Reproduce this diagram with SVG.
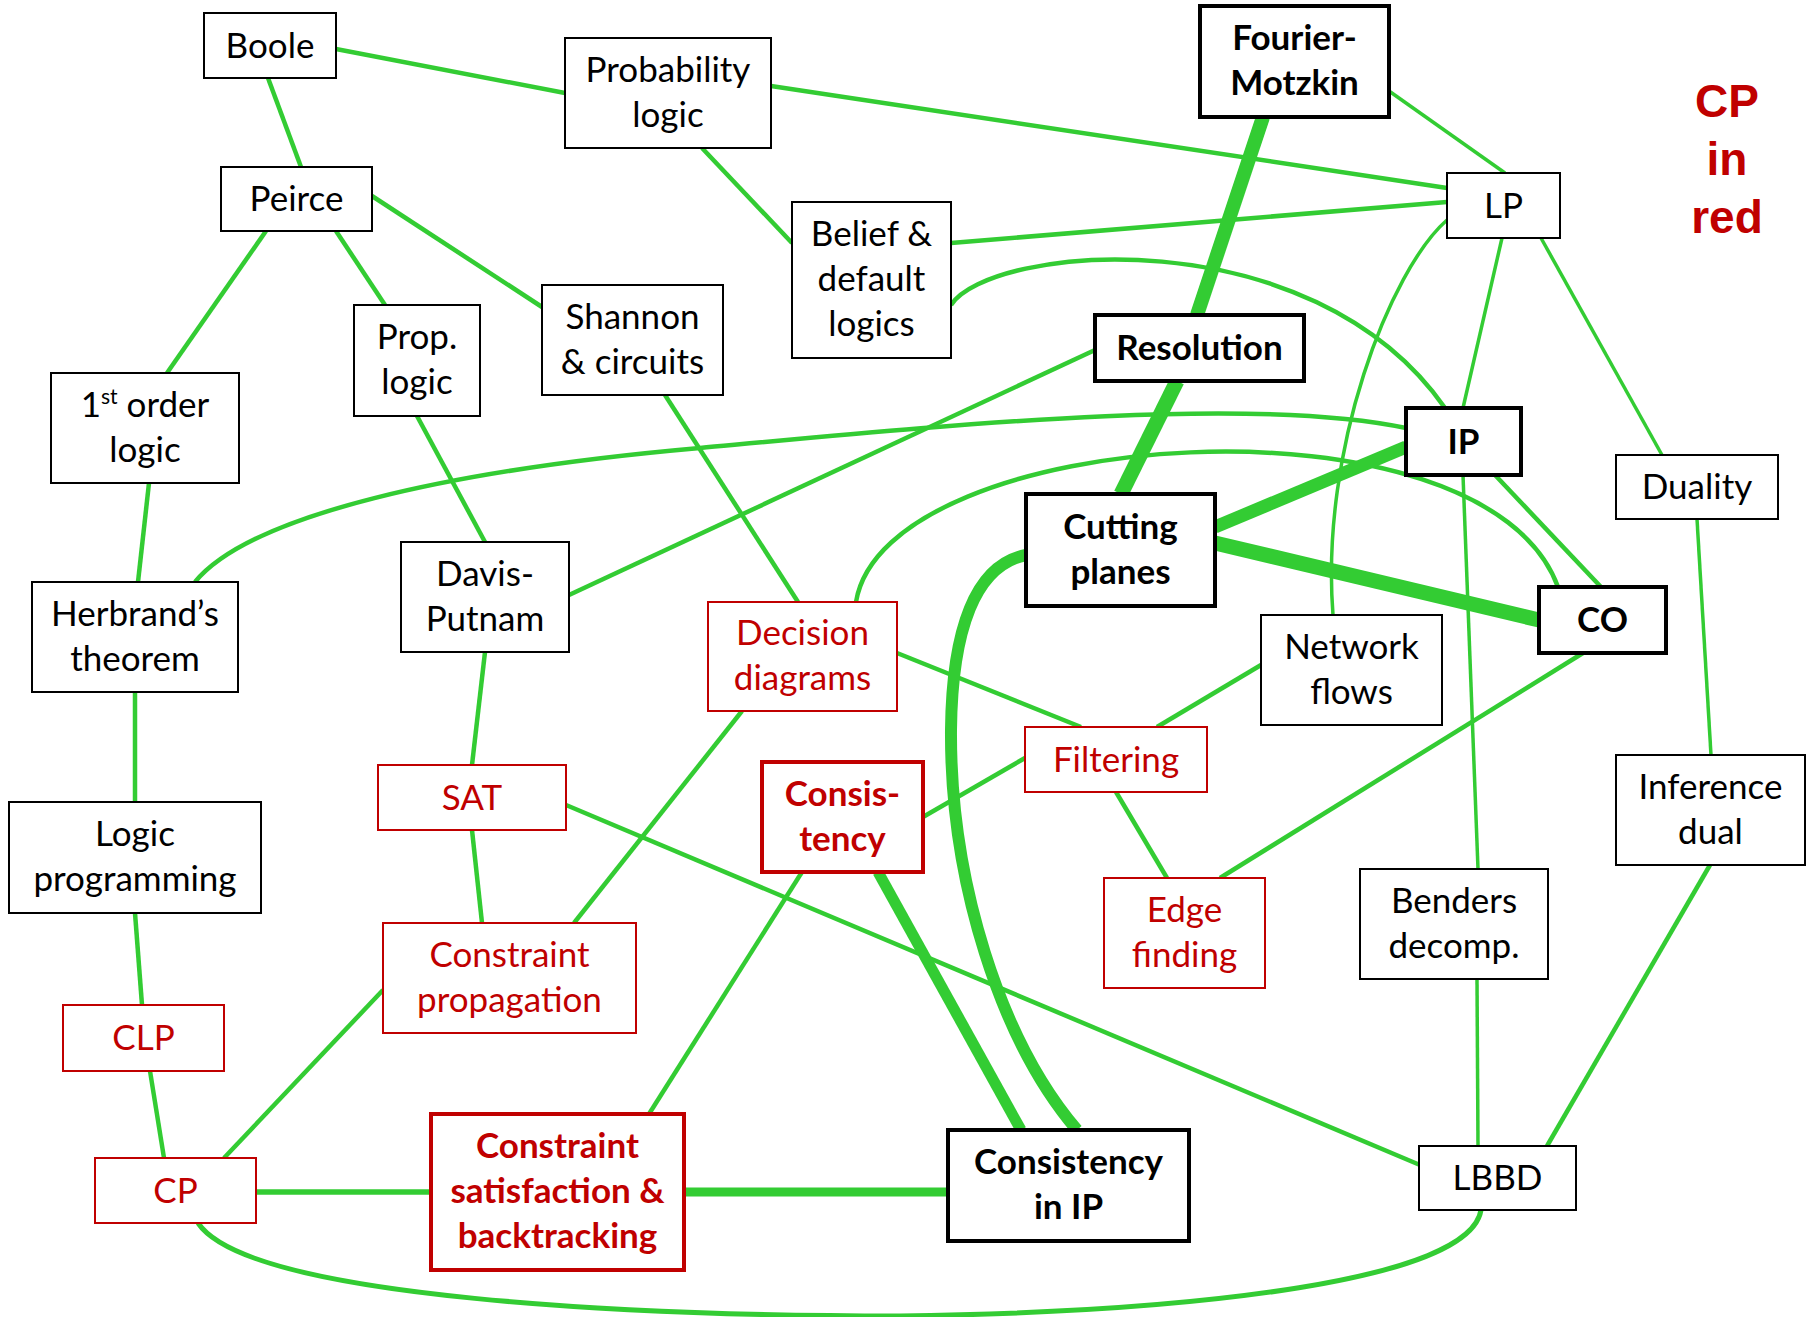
<svg xmlns="http://www.w3.org/2000/svg" width="1818" height="1317" viewBox="0 0 1818 1317">
<style>
.e{fill:none;stroke:#33CC33;stroke-width:4.5;stroke-linecap:butt}
.t{stroke-width:3.5}
.k{fill:none;stroke:#33CC33}
.n{fill:#fff;stroke:#000;stroke-width:2}
.nb{fill:#fff;stroke:#000;stroke-width:4}
.r{fill:#fff;stroke:#C00000;stroke-width:2}
.rb{fill:#fff;stroke:#C00000;stroke-width:4}
text{font-family:Lato,"Open Sans","Liberation Sans",sans-serif;font-size:35px;text-anchor:middle;fill:#000}
.red{fill:#C00000}
.b{font-weight:bold}
.big{font-family:"Liberation Sans",Arial,sans-serif;font-weight:bold;font-size:46px;fill:#C00000}
</style>
<rect width="1818" height="1317" fill="#fff"/>
<g id="connectors">
<line class="e" x1="336" y1="49" x2="565" y2="93"/>
<line class="e" x1="771" y1="86" x2="1447" y2="188"/>
<line class="e" x1="268" y1="78" x2="301" y2="167"/>
<line class="e" x1="702" y1="148" x2="792" y2="243"/>
<line class="e" x1="266" y1="231" x2="167" y2="373"/>
<line class="e" x1="336" y1="231" x2="385" y2="305"/>
<line class="e" x1="372" y1="196" x2="542" y2="307"/>
<line class="e" x1="951" y1="243" x2="1447" y2="202"/>
<line class="e t" x1="1389" y1="91" x2="1505" y2="173"/>
<path class="e" d="M951,305 C990,245 1310,215 1445,408"/>
<line class="e" x1="1095" y1="350" x2="569" y2="595"/>
<line class="e t" x1="1502" y1="238" x2="1463" y2="408"/>
<line class="e t" x1="1541" y1="238" x2="1662" y2="455"/>
<path class="e t" d="M1447,220 C1390,270 1320,450 1333,615"/>
<path class="e" d="M195,582 C250,515 450,470 700,448 C950,425 1250,395 1406,428"/>
<line class="e" x1="1495" y1="475" x2="1601" y2="587"/>
<path class="e" d="M856,602 C885,425 1485,385 1558,587"/>
<line class="e" x1="1261" y1="665" x2="1157" y2="727"/>
<line class="e" x1="897" y1="653" x2="1081" y2="727"/>
<line class="e" x1="923" y1="817" x2="1025" y2="758"/>
<line class="e" x1="1116" y1="792" x2="1167" y2="878"/>
<line class="e" x1="1583" y1="653" x2="1220" y2="878"/>
<line class="e t" x1="1697" y1="519" x2="1711" y2="755"/>
<line class="e t" x1="1463" y1="475" x2="1478" y2="869"/>
<line class="e t" x1="1477" y1="979" x2="1478" y2="1146"/>
<line class="e" x1="1710" y1="865" x2="1547" y2="1146"/>
<line class="e" x1="802" y1="872" x2="649" y2="1114"/>
<line class="e" x1="566" y1="805" x2="1420" y2="1165"/>
<line class="e" x1="485" y1="652" x2="472" y2="765"/>
<line class="e" x1="417" y1="416" x2="485" y2="542"/>
<line class="e" x1="665" y1="395" x2="798" y2="602"/>
<line class="e" x1="742" y1="711" x2="574" y2="923"/>
<line class="e" x1="472" y1="830" x2="482" y2="923"/>
<line class="e" x1="149" y1="483" x2="138" y2="582"/>
<line class="e" x1="135" y1="692" x2="135" y2="802"/>
<line class="e" x1="135" y1="913" x2="142" y2="1005"/>
<line class="e" x1="150" y1="1071" x2="164" y2="1158"/>
<line class="e" x1="383" y1="990" x2="224" y2="1158"/>
<line class="e" x1="256" y1="1192" x2="431" y2="1192" style="stroke-width:5.5"/>
<path class="e" style="stroke-width:5" d="M198,1223 C250,1300 650,1316 900,1316 C1200,1312 1470,1280 1481,1210"/>
<line class="k" x1="1263" y1="117" x2="1197" y2="315" stroke-width="14"/>
<line class="k" x1="1177" y1="381" x2="1121" y2="494" stroke-width="15"/>
<line class="k" x1="1406" y1="447" x2="1215" y2="527" stroke-width="13"/>
<line class="k" x1="1215" y1="543" x2="1539" y2="620" stroke-width="15"/>
<path class="k" stroke-width="12" d="M1026,555 C975,565 952,630 951,730 C950,880 1000,1040 1077,1130"/>
<line class="k" x1="878" y1="872" x2="1021" y2="1130" stroke-width="11"/>
<line class="k" x1="684" y1="1192" x2="948" y2="1192" stroke-width="9"/>
</g>
<g id="boole"><rect class="n" x="204" y="13" width="132" height="65"/><text x="270" y="58">Boole</text></g>
<g id="probability-logic"><rect class="n" x="565" y="38" width="206" height="110"/><text x="668" y="82">Probability</text><text x="668" y="127">logic</text></g>
<g id="peirce"><rect class="n" x="221" y="167" width="151" height="64"/><text x="296.5" y="211">Peirce</text></g>
<g id="prop-logic"><rect class="n" x="354" y="305" width="126" height="111"/><text x="417" y="349">Prop.</text><text x="417" y="394">logic</text></g>
<g id="shannon"><rect class="n" x="542" y="285" width="181" height="110"/><text x="632.5" y="329">Shannon</text><text x="632.5" y="374">&amp; circuits</text></g>
<g id="first-order-logic"><rect class="n" x="51" y="373" width="188" height="110"/><text x="145" y="417">1<tspan font-size="21" dy="-13">st</tspan><tspan dy="13"> order</tspan></text><text x="145" y="462">logic</text></g>
<g id="belief"><rect class="n" x="792" y="202" width="159" height="156"/><text x="871.5" y="246">Belief &amp;</text><text x="871.5" y="291">default</text><text x="871.5" y="336">logics</text></g>
<g id="fourier-motzkin"><rect class="nb" x="1200" y="6" width="189" height="111"/><text class="b" x="1294.5" y="50">Fourier-</text><text class="b" x="1294.5" y="95">Motzkin</text></g>
<g id="lp"><rect class="n" x="1447" y="173" width="113" height="65"/><text x="1503.5" y="218">LP</text></g>
<g id="cp-in-red"><text class="big" x="1727" y="117">CP</text><text class="big" x="1727" y="175">in</text><text class="big" x="1727" y="233">red</text></g>
<g id="resolution"><rect class="nb" x="1095" y="315" width="209" height="66"/><text class="b" x="1199.5" y="360">Resolution</text></g>
<g id="ip"><rect class="nb" x="1406" y="408" width="115" height="67"/><text class="b" x="1463.5" y="454">IP</text></g>
<g id="duality"><rect class="n" x="1616" y="455" width="162" height="64"/><text x="1697" y="499">Duality</text></g>
<g id="herbrand"><rect class="n" x="32" y="582" width="206" height="110"/><text x="135" y="626">Herbrand’s</text><text x="135" y="671">theorem</text></g>
<g id="davis-putnam"><rect class="n" x="401" y="542" width="168" height="110"/><text x="485" y="586">Davis-</text><text x="485" y="631">Putnam</text></g>
<g id="cutting-planes"><rect class="nb" x="1026" y="494" width="189" height="112"/><text class="b" x="1120.5" y="539">Cutting</text><text class="b" x="1120.5" y="584">planes</text></g>
<g id="co"><rect class="nb" x="1539" y="587" width="127" height="66"/><text class="b" x="1602.5" y="632">CO</text></g>
<g id="decision-diagrams"><rect class="r" x="708" y="602" width="189" height="109"/><text class="red" x="802.5" y="645">Decision</text><text class="red" x="802.5" y="690">diagrams</text></g>
<g id="network-flows"><rect class="n" x="1261" y="615" width="181" height="110"/><text x="1351.5" y="659">Network</text><text x="1351.5" y="704">flows</text></g>
<g id="filtering"><rect class="r" x="1025" y="727" width="182" height="65"/><text class="red" x="1116" y="772">Filtering</text></g>
<g id="sat"><rect class="r" x="378" y="765" width="188" height="65"/><text class="red" x="472" y="810">SAT</text></g>
<g id="consistency"><rect class="rb" x="762" y="762" width="161" height="110"/><text class="red b" x="842.5" y="806">Consis-</text><text class="red b" x="842.5" y="851">tency</text></g>
<g id="inference-dual"><rect class="n" x="1616" y="755" width="189" height="110"/><text x="1710.5" y="799">Inference</text><text x="1710.5" y="844">dual</text></g>
<g id="logic-programming"><rect class="n" x="9" y="802" width="252" height="111"/><text x="135" y="846">Logic</text><text x="135" y="891">programming</text></g>
<g id="edge-finding"><rect class="r" x="1104" y="878" width="161" height="110"/><text class="red" x="1184.5" y="922">Edge</text><text class="red" x="1184.5" y="967">finding</text></g>
<g id="benders"><rect class="n" x="1360" y="869" width="188" height="110"/><text x="1454" y="913">Benders</text><text x="1454" y="958">decomp.</text></g>
<g id="constraint-propagation"><rect class="r" x="383" y="923" width="253" height="110"/><text class="red" x="509.5" y="967">Constraint</text><text class="red" x="509.5" y="1012">propagation</text></g>
<g id="clp"><rect class="r" x="63" y="1005" width="161" height="66"/><text class="red" x="143.5" y="1050">CLP</text></g>
<g id="csp"><rect class="rb" x="431" y="1114" width="253" height="156"/><text class="red b" x="557.5" y="1158">Constraint</text><text class="red b" x="557.5" y="1203">satisfaction &amp;</text><text class="red b" x="557.5" y="1248">backtracking</text></g>
<g id="consistency-in-ip"><rect class="nb" x="948" y="1130" width="241" height="111"/><text class="b" x="1068.5" y="1174">Consistency</text><text class="b" x="1068.5" y="1219">in IP</text></g>
<g id="cp"><rect class="r" x="95" y="1158" width="161" height="65"/><text class="red" x="175.5" y="1203">CP</text></g>
<g id="lbbd"><rect class="n" x="1419" y="1146" width="157" height="64"/><text x="1497.5" y="1190">LBBD</text></g>
</svg>
